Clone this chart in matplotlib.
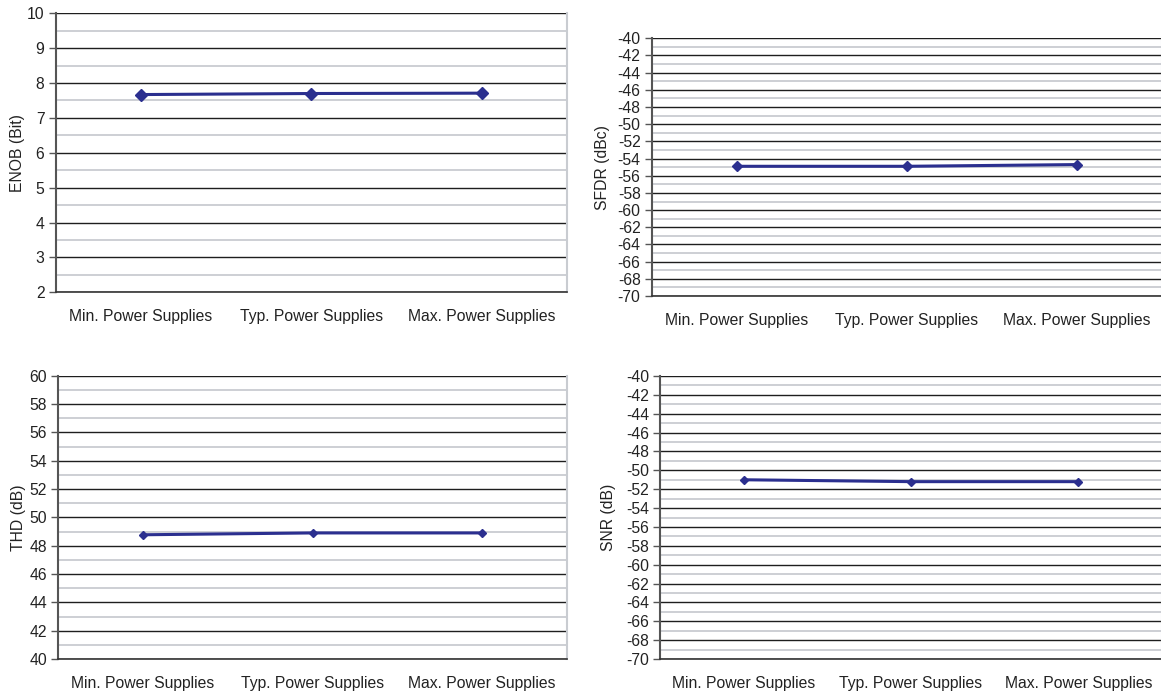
import matplotlib
matplotlib.use("Agg")
import matplotlib.pyplot as plt
import numpy as np

plt.rcParams['font.family'] = ['Liberation Sans', 'DejaVu Sans']

categories = ["Min. Power Supplies", "Typ. Power Supplies", "Max. Power Supplies"]
enob = [7.67, 7.70, 7.71]
sfdr = [-54.9, -54.9, -54.7]
thd = [48.77, 48.9, 48.9]
snr = [-51.0, -51.2, -51.2]

W, H = 1161, 696
fig = plt.figure(figsize=(W / 100, H / 100), dpi=100)

def add_ax(l, r, t, b):
    return fig.add_axes([l / W, 1 - b / H, (r - l) / W, (b - t) / H])

panels = [
    ((55.5, 567, 13.3, 292.3), enob, "ENOB (Bit)", 2, 10, 1, 18, 6),
    ((651.7, 1162, 38.3, 296), sfdr, "SFDR (dBc)", -70, -40, 2, 603, 5.5),
    ((58.3, 567, 375.7, 659), thd, "THD (dB)", 40, 60, 2, 18, 4.5),
    ((660, 1162, 376, 659), snr, "SNR (dB)", -70, -40, 2, 608, 4.5),
]

FS = 11.3
line_color = "#2b2f8f"
for (l, r, t, b), vals, ylab, ymin, ymax, step, lx, ms in panels:
    ax = add_ax(l, r, t, b)
    x = np.arange(len(categories))
    ax.set_xlim(-0.5, len(categories) - 0.5)
    ax.set_ylim(ymin, ymax)
    majors = np.arange(ymin, ymax + step / 2, step)
    minors = majors[:-1] + step / 2
    for m in minors:
        ax.axhline(m, color="#c9ccd1", lw=1.3, zorder=1)
    for m in majors:
        ax.axhline(m, color="#1e1e1e", lw=1.0, zorder=1.5)
    ax.plot(x, vals, color=line_color, lw=2.2, marker="D", ms=ms,
            zorder=3, clip_on=False)
    ax.set_yticks(majors)
    ax.set_yticklabels([f"{int(v)}" for v in majors])
    ax.set_xticks(x)
    ax.set_xticklabels(categories)
    ax.tick_params(axis="x", length=0, pad=12, labelsize=FS, colors="#222222")
    ax.tick_params(axis="y", length=5, width=1, pad=3, labelsize=FS,
                   color="#555555", labelcolor="#222222")
    ax.spines["top"].set_visible(False)
    ax.spines["right"].set_color("#c9ccd1")
    ax.spines["right"].set_linewidth(1.5)
    ax.spines["left"].set_color("#555555")
    ax.spines["left"].set_linewidth(1.5)
    ax.spines["bottom"].set_color("#333333")
    ax.spines["bottom"].set_linewidth(1.2)
    fig.text(lx / W, 1 - ((t + b) / 2) / H, ylab, rotation=90,
             ha="center", va="center", fontsize=FS, color="#222222")

fig.savefig("out.png", dpi=100)
